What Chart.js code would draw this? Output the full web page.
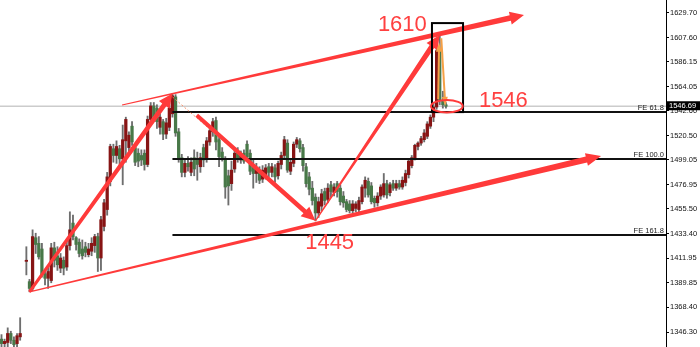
<!DOCTYPE html>
<html>
<head>
<meta charset="utf-8">
<script src="https://cdn.jsdelivr.net/npm/chart.js@4/dist/chart.umd.min.js"></script>
<style>
  html, body { margin: 0; padding: 0; background: #ffffff; overflow: hidden; }
  #wrap { width: 700px; height: 347px; }
</style>
</head>
<body>
<div id="wrap"><canvas id="c" width="700" height="347"></canvas></div>
<script>
// ---- candle data (bar index 0..143) ----
const opens = [
  1340, 1336, 1337, 1345, 1339, 1336, 1342, null, 1409, 1391,
  1385, 1430, 1425, 1420, 1398, 1394, 1392, 1421, 1414, 1403,
  1410, 1404, 1423, 1443, 1430, 1426, 1420, 1422, 1415, 1418,
  1423, 1431, 1412, 1440, 1455, 1480, 1509, 1503, 1509, 1500,
  1516, 1510, 1529, 1510, 1505, 1503, 1505, 1495, 1535, 1547,
  1545, 1528, 1533, 1522, 1528, 1540, 1555, 1524, 1501, 1488,
  1496, 1488, 1501, 1500, 1493, 1510, 1501, 1515, 1524, 1534,
  1517, 1506, 1500, 1485, 1478, 1491, 1506, 1499, 1505, 1513,
  1505, 1495, 1487, 1489, 1482, 1486, 1493, 1488, 1492, 1485,
  1495, 1503, 1514, 1489, 1496, 1513, 1516, 1510, 1493, 1484,
  1474, 1466, 1452, 1458, 1471, 1464, 1477, 1470, 1478, 1474,
  1467, 1462, 1460, 1454, 1456, 1455, 1462, 1474, 1480, 1476,
  1465, 1461, 1467, 1468, 1478, 1470, 1478, 1474, 1478, 1475,
  1479, 1486, 1494, 1501, 1511, 1514, 1517, 1520, 1529, 1537,
  1546, 1596, 1552, 1548
];
const highs = [
  1344, 1340, 1350, 1347, 1342, 1345, 1359, null, 1422, 1393,
  1437, 1434, 1431, 1425, 1402, 1404, 1425, 1426, 1422, 1416,
  1413, 1428, 1453, 1450, 1431, 1429, 1428, 1426, 1425, 1430,
  1433, 1434, 1449, 1464, 1488, 1513, 1513, 1516, 1512, 1530,
  1537, 1524, 1533, 1512, 1509, 1508, 1508, 1538, 1550, 1550,
  1548, 1540, 1535, 1536, 1554, 1558, 1557, 1527, 1504, 1500,
  1502, 1501, 1508, 1506, 1505, 1513, 1519, 1527, 1536, 1537,
  1520, 1510, 1502, 1490, 1498, 1510, 1510, 1507, 1508, 1516,
  1508, 1499, 1496, 1493, 1494, 1495, 1496, 1496, 1495, 1498,
  1506, 1520, 1517, 1499, 1515, 1519, 1518, 1513, 1496, 1488,
  1480, 1469, 1466, 1473, 1474, 1478, 1480, 1478, 1480, 1477,
  1471, 1464, 1463, 1463, 1462, 1466, 1477, 1484, 1483, 1479,
  1467, 1470, 1477, 1487, 1481, 1479, 1481, 1481, 1481, 1484,
  1490, 1500, 1503, 1513, 1515, 1520, 1526, 1533, 1539, 1550,
  1599, 1610, 1560, 1550
];
const lows = [
  1333, 1331, 1333, 1336, 1333, 1333, 1339, null, 1397, 1382,
  1383, 1416, 1411, 1395, 1388, 1385, 1390, 1404, 1401, 1399,
  1397, 1401, 1419, 1428, 1419, 1413, 1411, 1413, 1413, 1414,
  1417, 1400, 1401, 1436, 1450, 1476, 1497, 1496, 1495, 1477,
  1497, 1505, 1512, 1494, 1493, 1494, 1490, 1493, 1530, 1534,
  1527, 1522, 1517, 1518, 1525, 1537, 1520, 1497, 1484, 1484,
  1489, 1485, 1485, 1481, 1488, 1493, 1497, 1512, 1520, 1508,
  1493, 1498, 1465, 1459, 1472, 1488, 1497, 1496, 1496, 1499,
  1486, 1474, 1479, 1478, 1479, 1482, 1484, 1484, 1479, 1482,
  1491, 1500, 1488, 1486, 1493, 1510, 1506, 1489, 1475, 1468,
  1459, 1445, 1448, 1454, 1459, 1461, 1466, 1467, 1466, 1459,
  1457, 1453, 1452, 1452, 1453, 1453, 1460, 1466, 1466, 1460,
  1457, 1458, 1464, 1466, 1465, 1467, 1472, 1472, 1473, 1473,
  1476, 1483, 1492, 1499, 1508, 1512, 1515, 1518, 1527, 1533,
  1544, 1548, 1545, 1545
];
const closes = [
  1336, 1338, 1345, 1339, 1335, 1343, 1345, null, 1410, 1385,
  1431, 1424, 1413, 1397, 1394, 1400, 1421, 1410, 1406, 1412,
  1403, 1423, 1437, 1431, 1424, 1416, 1414, 1417, 1420, 1425,
  1431, 1412, 1446, 1461, 1484, 1511, 1503, 1511, 1500, 1517,
  1535, 1521, 1515, 1497, 1498, 1499, 1495, 1535, 1547, 1537,
  1533, 1537, 1522, 1532, 1545, 1556, 1523, 1500, 1488, 1496,
  1493, 1497, 1491, 1495, 1501, 1499, 1516, 1525, 1533, 1515,
  1502, 1501, 1475, 1476, 1490, 1505, 1500, 1504, 1498, 1502,
  1489, 1487, 1492, 1481, 1490, 1492, 1488, 1493, 1484, 1496,
  1503, 1517, 1490, 1497, 1513, 1517, 1509, 1494, 1478, 1473,
  1463, 1452, 1462, 1469, 1463, 1474, 1471, 1475, 1471, 1462,
  1461, 1455, 1454, 1460, 1460, 1463, 1475, 1481, 1468, 1462,
  1461, 1467, 1475, 1478, 1468, 1477, 1474, 1478, 1475, 1481,
  1487, 1498, 1501, 1512, 1514, 1518, 1523, 1531, 1537, 1546,
  1596, 1552, 1548, 1546.69
];

// price axis ticks
const priceTicks = [1346.30, 1368.40, 1389.85, 1411.95, 1433.40, 1455.50, 1476.95,
                    1499.05, 1520.50, 1542.60, 1564.05, 1586.15, 1607.60, 1629.70];

// Fibonacci expansion: anchor bars and prices (A, B, C) and level ratios
const feIdx = [55, 101, 141];
const fePrice = [1555, lows[101], highs[141]];
const feLevels = [61.8, 100.0, 161.8];

// channel lines (bar index, price)
const upperChannel = [[38.8, 1547.8], [168.1, 1627.7]];
const lowerChannel = [[9, lows[9]], [192.9, 1502.5]];

// bid price
const bidPrice = closes[closes.length - 1];

// callout labels: value shown and anchor (bar index, price of baseline)
const callouts = [
  { value: highs[141], at: [121.1, 1613.5] },
  { value: bidPrice,   at: [153.6, 1546.0] },
  { value: lows[101],  at: [97.7, 1420.0] }
];

// highlight box around the reversal bars and ring at the bid
const focusBox = [[138.5, 1620.5], [148.5, 1541.5]];
const ring = { center: [143.3, bidPrice], radius: [5.1, 5.5] };
const swingArrows = [
  [[140.5, 1553], [140.8, 1603]],
  [[141.5, 1607], [142.8, 1547]]
];

// visible range
const xMin = -0.483, xMax = 213.8;
const yMin = 1333.0, yMax = 1641.0;

const BULL = 'rgb(135,20,20)';
const BEAR = 'rgb(72,120,72)';
const WICK = 'rgb(110,110,110)';
const RED = 'rgb(255,58,58)';

const bodyData = [], wickData = [];
opens.forEach((o, i) => {
  if (o === null) return;
  bodyData.push({ x: i, y: [o, closes[i]] });
  wickData.push({ x: i, y: [lows[i], highs[i]] });
});

function taperArrow(ctx, x0, y0, x1, y1, w0, w1, headLen, headHalf, color) {
  const dx = x1 - x0, dy = y1 - y0, len = Math.hypot(dx, dy);
  const ux = dx / len, uy = dy / len, nx = -uy, ny = ux;
  const bx = x1 - ux * headLen, by = y1 - uy * headLen;
  ctx.beginPath();
  ctx.moveTo(x0 + nx * w0 / 2, y0 + ny * w0 / 2);
  ctx.lineTo(bx + nx * w1 / 2, by + ny * w1 / 2);
  ctx.lineTo(bx + nx * headHalf, by + ny * headHalf);
  ctx.lineTo(x1, y1);
  ctx.lineTo(bx - nx * headHalf, by - ny * headHalf);
  ctx.lineTo(bx - nx * w1 / 2, by - ny * w1 / 2);
  ctx.lineTo(x0 - nx * w0 / 2, y0 - ny * w0 / 2);
  ctx.closePath();
  ctx.fillStyle = color;
  ctx.fill();
}

function lineArrow(ctx, x0, y0, x1, y1, color) {
  const dx = x1 - x0, dy = y1 - y0, len = Math.hypot(dx, dy);
  const ux = dx / len, uy = dy / len, nx = -uy, ny = ux;
  ctx.strokeStyle = color; ctx.lineWidth = 2;
  ctx.beginPath(); ctx.moveTo(x0, y0); ctx.lineTo(x1 - ux * 5, y1 - uy * 5); ctx.stroke();
  ctx.beginPath();
  ctx.moveTo(x1, y1);
  ctx.lineTo(x1 - ux * 9 + nx * 3, y1 - uy * 9 + ny * 3);
  ctx.lineTo(x1 - ux * 9 - nx * 3, y1 - uy * 9 - ny * 3);
  ctx.closePath(); ctx.fillStyle = color; ctx.fill();
}

const markup = {
  id: 'markup',
  beforeDatasetsDraw(chart) {
    const { ctx, chartArea, scales: { y } } = chart;
    const yb = y.getPixelForValue(bidPrice);
    ctx.save();
    ctx.strokeStyle = '#cccccc'; ctx.lineWidth = 1.5;
    ctx.beginPath(); ctx.moveTo(chartArea.left, yb); ctx.lineTo(chartArea.right, yb); ctx.stroke();
    ctx.restore();
  },
  afterDatasetsDraw(chart) {
    const { ctx, chartArea, scales: { x, y } } = chart;
    const px = v => x.getPixelForValue(v), py = v => y.getPixelForValue(v);
    ctx.save();

    // Fibonacci expansion levels
    const range = fePrice[0] - fePrice[1];
    ctx.font = '7.5px "Liberation Sans"';
    ctx.textAlign = 'right'; ctx.textBaseline = 'alphabetic';
    feLevels.forEach(r => {
      const lv = fePrice[2] - range * r / 100;
      const yy = Math.round(py(lv));
      ctx.strokeStyle = '#111'; ctx.lineWidth = 1.8;
      ctx.beginPath(); ctx.moveTo(px(feIdx[0]), yy); ctx.lineTo(chartArea.right, yy); ctx.stroke();
      ctx.fillStyle = '#222';
      ctx.fillText('FE ' + r.toFixed(1), chartArea.right - 2, yy - 2);
    });

    // expansion base line (dotted)
    ctx.strokeStyle = 'rgba(250,140,100,0.9)'; ctx.lineWidth = 1; ctx.setLineDash([2, 2]);
    ctx.beginPath();
    feIdx.forEach((i, k) => { const X = px(i), Y = py(fePrice[k]); k ? ctx.lineTo(X, Y) : ctx.moveTo(X, Y); });
    ctx.stroke(); ctx.setLineDash([]);

    // channel lines
    taperArrow(ctx, px(upperChannel[0][0]), py(upperChannel[0][1]),
               px(upperChannel[1][0]), py(upperChannel[1][1]), 1.2, 5.5, 14, 6.5, RED);
    taperArrow(ctx, px(lowerChannel[0][0]), py(lowerChannel[0][1]),
               px(lowerChannel[1][0]), py(lowerChannel[1][1]), 1.2, 6, 15, 6.5, RED);

    // swing arrows
    taperArrow(ctx, px(9), py(lows[9]), px(55), py(highs[55]), 3, 5, 14, 6.5, RED);
    const sx = px(55), sy = py(highs[55]), ex = px(101), ey = py(lows[101]);
    const t = 0.17;
    taperArrow(ctx, sx + (ex - sx) * t, sy + (ey - sy) * t, ex, ey, 4, 4.5, 14, 6.5, RED);
    taperArrow(ctx, px(101), py(lows[101]), px(141), py(highs[141]), 1.2, 5.5, 14, 6.5, RED);

    // highlight box
    ctx.strokeStyle = '#000'; ctx.lineWidth = 2;
    const bx0 = px(focusBox[0][0]), by0 = py(focusBox[0][1]);
    const bx1 = px(focusBox[1][0]), by1 = py(focusBox[1][1]);
    ctx.strokeRect(bx0, by0, bx1 - bx0, by1 - by0);

    // orange swing arrows
    swingArrows.forEach(a => lineArrow(ctx, px(a[0][0]), py(a[0][1]), px(a[1][0]), py(a[1][1]), 'rgb(245,160,70)'));

    // ring around the bid
    const cx = px(ring.center[0]), cy = py(ring.center[1]);
    const rx = px(ring.center[0] + ring.radius[0]) - cx;
    const ry = py(ring.center[1] - ring.radius[1]) - cy;
    ctx.strokeStyle = RED; ctx.lineWidth = 2;
    ctx.beginPath(); ctx.ellipse(cx, cy, rx, ry, 0, 0, Math.PI * 2); ctx.stroke();

    // callout labels
    ctx.font = '22px "Liberation Sans"';
    ctx.textAlign = 'left'; ctx.textBaseline = 'alphabetic';
    ctx.fillStyle = 'rgb(255,64,64)';
    callouts.forEach(c => ctx.fillText(String(Math.floor(c.value)), px(c.at[0]), py(c.at[1])));

    ctx.restore();
  },
  afterDraw(chart) {
    const { ctx, chartArea, scales: { y } } = chart;
    const yb = y.getPixelForValue(bidPrice);
    ctx.save();
    ctx.fillStyle = '#000';
    ctx.fillRect(chartArea.right + 1, yb - 5, 700 - chartArea.right - 1, 9);
    ctx.fillStyle = '#fff';
    ctx.font = '7.5px "Liberation Sans"';
    ctx.textAlign = 'left'; ctx.textBaseline = 'middle';
    ctx.fillText(bidPrice.toFixed(2), chartArea.right + 3, yb - 0.5);
    ctx.restore();
  }
};

new Chart(document.getElementById('c'), {
  type: 'bar',
  data: {
    datasets: [
      {
        label: 'body', data: bodyData, order: 0, grouped: false,
        barThickness: 2.6, minBarLength: 1, borderWidth: 0,
        backgroundColor: c => {
          const i = c.raw && c.raw.x;
          return closes[i] >= opens[i] ? BULL : BEAR;
        }
      },
      {
        label: 'wick', data: wickData, order: 1, grouped: false,
        barThickness: 1.2, borderWidth: 0, backgroundColor: WICK
      }
    ]
  },
  options: {
    responsive: false,
    animation: false,
    devicePixelRatio: 1,
    layout: { padding: 0, autoPadding: false },
    plugins: { legend: { display: false }, tooltip: { enabled: false } },
    scales: {
      x: { type: 'linear', display: false, min: xMin, max: xMax, offset: false },
      y: {
        position: 'right', min: yMin, max: yMax,
        afterBuildTicks: s => { s.ticks = priceTicks.map(v => ({ value: v })); },
        afterFit: s => { s.width = 34; s.paddingTop = 0; s.paddingBottom = 0; },
        border: { display: true, color: '#000', width: 1 },
        grid: { drawOnChartArea: false, drawTicks: true, tickLength: 3, tickColor: '#000' },
        ticks: {
          autoSkip: false, padding: 1, color: '#111',
          font: { family: 'Liberation Sans', size: 7.5 },
          callback: v => Number(v).toFixed(2)
        }
      }
    }
  },
  plugins: [markup]
});
</script>
</body>
</html>
